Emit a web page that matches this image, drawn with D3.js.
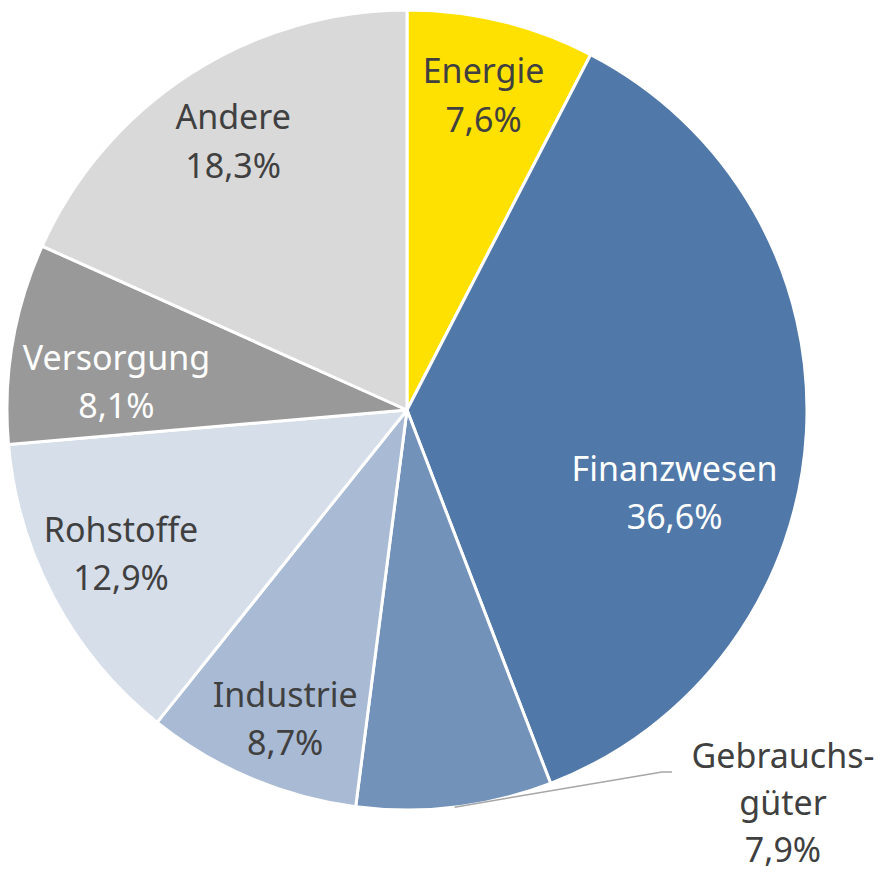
<!DOCTYPE html>
<html>
<head>
<meta charset="utf-8">
<script src="https://cdn.jsdelivr.net/npm/d3@7"></script>
<style>
  body { margin: 0; background: #fff; }
  svg text { font-family: "Noto Sans", "Open Sans", sans-serif; font-size: 34px; }
</style>
</head>
<body>
<svg id="dessin" width="884" height="872"></svg>
<script>
// données du camembert (sens horaire depuis midi)
const sektoren = ["Energie", "Finanzwesen", "Gebrauchsgüter", "Industrie", "Rohstoffe", "Versorgung", "Andere"];
const anteile = [7.6, 36.6, 7.9, 8.7, 12.9, 8.1, 18.3];
const farben = ["#FFE100", "#5078A9", "#7392BA", "#A8BAD4", "#D6DEEA", "#999999", "#D9D9D9"];
const textfarben = ["#404040", "#ffffff", "#404040", "#404040", "#404040", "#ffffff", "#404040"];

const cx = 407, cy = 410, r = 400;
const svg = d3.select("#dessin");
const g = svg.append("g").attr("transform", `translate(${cx},${cy})`);

const data = sektoren.map((s, i) => ({ name: s, value: anteile[i], i: i }));

const pie = d3.pie().value(d => d.value).sort(null);
const arcs = pie(data);

const arc = d3.arc().innerRadius(0).outerRadius(r);

g.selectAll("path")
    .data(arcs)
    .enter()
    .append("path")
    .attr("d", arc)
    .attr("fill", d => farben[d.data.i])
    .attr("stroke", "#fff")
    .attr("stroke-width", 3)
    .attr("stroke-linejoin", "round");

// position des étiquettes : rayon relatif + décalage d'angle (en degrés)
const labelPos = {
    "Energie": [0.81, 0],
    "Finanzwesen": [0.70, 14],
    "Industrie": [0.83, -1.5],
    "Rohstoffe": [0.80, 1.5],
    "Versorgung": [0.73, -4],
    "Andere": [0.80, 0]
};

const fmt = v => d3.format(".1f")(v).replace(".", ",") + "%";

arcs.forEach(a => {
    const name = a.data.name;
    if (!labelPos[name]) return;
    const [f, off] = labelPos[name];
    const ang = (a.startAngle + a.endAngle) / 2 + off * Math.PI / 180;
    const x = Math.sin(ang) * r * f;
    const y = -Math.cos(ang) * r * f;
    const t = g.append("text")
        .attr("text-anchor", "middle")
        .attr("fill", textfarben[a.data.i])
        .attr("x", x)
        .attr("y", y);
    t.append("tspan").attr("x", x).attr("dy", "-0.35em").text(name);
    t.append("tspan").attr("x", x).attr("dy", "1.42em").text(fmt(a.data.value));
});

// Gebrauchsgüter : étiquette extérieure avec ligne de rappel
const geb = arcs[2];
const gAng = (geb.startAngle + geb.endAngle) / 2;
const p0 = [Math.sin(gAng) * r, -Math.cos(gAng) * r];
const p1 = [255, 362];
const p2 = [265, 362];
g.append("polyline")
    .attr("points", [p0, p1, p2].map(p => p.join(",")).join(" "))
    .attr("fill", "none")
    .attr("stroke", "#A6A6A6")
    .attr("stroke-width", 1.5);

const gx = 376;
const gt = g.append("text")
    .attr("text-anchor", "middle")
    .attr("fill", textfarben[2]);
gt.append("tspan").attr("x", gx).attr("y", 358).text("Gebrauchs-");
gt.append("tspan").attr("x", gx).attr("dy", "1.38em").text("güter");
gt.append("tspan").attr("x", gx).attr("dy", "1.38em").text(fmt(geb.data.value));
</script>
</body>
</html>
